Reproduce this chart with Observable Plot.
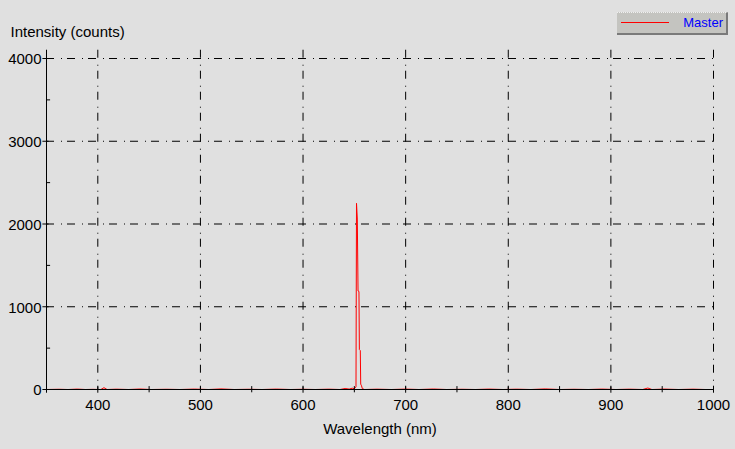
<!DOCTYPE html>
<html>
<head>
<meta charset="utf-8">
<script src="https://cdn.jsdelivr.net/npm/d3@7"></script>
<script src="https://cdn.jsdelivr.net/npm/@observablehq/plot@0.6"></script>
<style>
  html, body { margin: 0; padding: 0; background: #e0e0e0; }
  #wrap { position: relative; width: 735px; height: 449px; }
  #legend {
    position: absolute; left: 617px; top: 12px; width: 109px; height: 20px;
    background: #c4c4c0; border-right: 2px solid #7a7a7a; border-bottom: 2px solid #7a7a7a;
    border-top: 1px dotted #f0f0f0;
    font-family: "Liberation Sans", Arial, sans-serif; font-size: 13px; color: #0000ff;
  }
  #legend .sw { position: absolute; left: 4px; top: 9px; width: 48px; height: 1px; background: #ff0000; }
  #legend .lb { position: absolute; right: 3px; top: 2px; }
</style>
</head>
<body>
<div id="wrap"></div>
<script>
const wavelength = [350, 362, 371, 380, 388, 395, 403, 406, 409, 418, 430, 441, 452, 467, 480, 494, 508, 520, 533, 547, 560, 574, 588, 600, 612, 625, 636, 641, 645, 648, 650, 651, 651.6, 652.1, 652.9, 653.6, 654.5, 654.9, 655.8, 656.2, 657.0, 657.8, 660, 672, 686, 700, 713, 727, 740, 755, 768, 781, 795, 808, 822, 836, 850, 864, 878, 891, 905, 918, 931, 936, 940, 952, 966, 980, 992, 1000];
const intensity  = [0, 3, 0, 5, 0, 2, 0, 22, 0, 4, 0, 6, 0, 3, 0, 5, 0, 7, 0, 3, 0, 5, 0, 3, 0, 4, 0, 12, 5, 16, 9, 20, 35, 2250, 2060, 1190, 1185, 483, 470, 65, 45, 10, 0, 4, 0, 5, 0, 6, 0, 3, 0, 5, 0, 4, 0, 7, 0, 3, 0, 5, 0, 4, 0, 18, 0, 5, 0, 4, 0, 0];
const seriesName = "Master";
const xMajor = [400, 500, 600, 700, 800, 900, 1000];
const xMinor = [450, 550, 650, 750, 850, 950];
const yMajor = [0, 1000, 2000, 3000, 4000];
const yMinor = [500, 1500, 2500, 3500];
const xTitle = "Wavelength (nm)";
const yTitle = "Intensity (counts)";

const data = wavelength.map((w, i) => ({w, v: intensity[i]}));
const font = "'Liberation Sans', Arial, sans-serif";
const dash = "8,7,1,5";

const chart = Plot.plot({
  width: 735,
  height: 449,
  marginLeft: 46,
  marginRight: 22,
  marginTop: 58,
  marginBottom: 60,
  x: {domain: [350, 1000], axis: null},
  y: {domain: [0, 4000], axis: null},
  style: {background: "#e0e0e0", fontFamily: font, fontSize: "15px", color: "#000", overflow: "visible"},
  marks: [
    // grid
    Plot.ruleY(yMajor.filter(d => d > 0), {y: d => d, x1: 350, x2: 1000, stroke: "#000", strokeDasharray: dash, strokeWidth: 1, strokeOpacity: 1}),
    Plot.ruleX(xMajor, {x: d => d, y1: 4100, y2: 0, stroke: "#000", strokeDasharray: dash, strokeWidth: 1, strokeOpacity: 1}),
    // data
    Plot.line(data, {x: "w", y: "v", stroke: "#ff0000", strokeWidth: 1}),
    // axes lines
    Plot.ruleY([0], {x1: 350, x2: 1000, stroke: "#000", strokeWidth: 1, strokeOpacity: 1}),
    Plot.ruleX([350], {y1: -45, y2: 4100, stroke: "#000", strokeWidth: 1, strokeOpacity: 1}),
    // x ticks
    Plot.ruleX(xMajor, {x: d => d, y1: -45, y2: 30, stroke: "#000", strokeOpacity: 1}),
    Plot.ruleX(xMinor, {x: d => d, y1: -40, y2: 35, stroke: "#000", strokeOpacity: 1}),
    // y ticks
    Plot.ruleY(yMajor, {y: d => d, x1: 346.5, x2: 352.5, stroke: "#000", strokeOpacity: 1}),
    Plot.ruleY(yMinor, {y: d => d, x1: 350, x2: 354, stroke: "#000", strokeOpacity: 1}),
    // tick labels
    Plot.text(xMajor, {x: d => d, frameAnchor: "bottom", dy: 20, text: d => String(d), fill: "#000", fontSize: 15}),
    Plot.text(yMajor, {y: d => d, frameAnchor: "left", textAnchor: "end", dx: -5, dy: 1, text: d => String(d), fill: "#000", fontSize: 15}),
    // titles
    Plot.text([xTitle], {frameAnchor: "bottom", dy: 44, text: d => d, fill: "#000", fontSize: 15}),
    Plot.text([yTitle], {frameAnchor: "top-left", textAnchor: "start", dx: -36, dy: -32, text: d => d, fill: "#000", fontSize: 15})
  ]
});

const wrap = document.getElementById("wrap");
wrap.appendChild(chart);
const legend = document.createElement("div");
legend.id = "legend";
legend.innerHTML = '<div class="sw"></div><div class="lb"></div>';
legend.querySelector(".lb").textContent = seriesName;
wrap.appendChild(legend);
</script>
</body>
</html>
